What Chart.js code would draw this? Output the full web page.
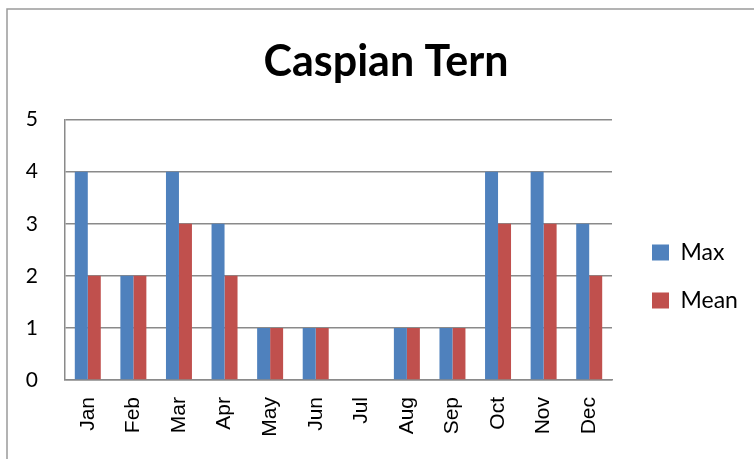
<!DOCTYPE html>
<html>
<head>
<meta charset="utf-8">
<script src="https://cdn.jsdelivr.net/npm/chart.js@4.4.1/dist/chart.umd.min.js"></script>
<style>
  html, body { margin: 0; padding: 0; background: #fff; }
  canvas { display: block; }
</style>
</head>
<body>
<canvas id="chart" width="754" height="459"></canvas>
<script>
// Monthly counts of Caspian Tern
const months = ['Jan', 'Feb', 'Mar', 'Apr', 'May', 'Jun', 'Jul', 'Aug', 'Sep', 'Oct', 'Nov', 'Dec'];
const maxCounts = [4, 2, 4, 3, 1, 1, 0, 1, 1, 4, 4, 3];
const meanCounts = [2, 2, 3, 2, 1, 1, 0, 1, 1, 3, 3, 2];
const yTicks = ['0', '1', '2', '3', '4', '5'];

const GRID = '#8a8a8a';
const CAL = 'Lato, "Open Sans", sans-serif';

// White page with a thin frame around the chart
const framePlugin = {
  id: 'frame',
  beforeDraw(chart) {
    const ctx = chart.ctx;
    ctx.save();
    ctx.fillStyle = '#fff';
    ctx.fillRect(0, 0, chart.width, chart.height);
    ctx.strokeStyle = '#9a9a9a';
    ctx.lineWidth = 1.5;
    ctx.strokeRect(7, 9, chart.width + 20, chart.height + 20);
    ctx.restore();
  }
};

// Give the legend column a fixed width so the plot keeps its size
const legendWidthPlugin = {
  id: 'legendWidth',
  beforeLayout(chart) {
    const lg = chart.legend;
    if (lg && !lg._fixedWidth) {
      const fit = lg.fit.bind(lg);
      lg.fit = function () { fit(); this.width = 125; };
      lg._fixedWidth = true;
    }
  }
};

new Chart(document.getElementById('chart'), {
  type: 'bar',
  data: {
    labels: months,
    datasets: [
      { label: 'Max', data: maxCounts, backgroundColor: '#4F81BD', borderWidth: 0 },
      { label: 'Mean', data: meanCounts, backgroundColor: '#C0504D', borderWidth: 0 }
    ]
  },
  options: {
    responsive: false,
    animation: false,
    devicePixelRatio: 1,
    layout: { padding: { left: 20, right: 2, top: 12, bottom: 0 } },
    datasets: { bar: { barPercentage: 1, categoryPercentage: 0.57 } },
    plugins: {
      tooltip: { enabled: false },
      title: {
        display: true,
        text: 'Caspian Tern',
        color: '#000',
        font: { family: CAL, size: 43, weight: 'bold', lineHeight: 1.2 },
        padding: { top: 24, bottom: 32 }
      },
      legend: {
        position: 'right',
        align: 'start',
        fullSize: false,
        title: { display: true, text: ' ', font: { size: 1, lineHeight: 1 }, padding: { top: 95.5, bottom: 0 } },
        labels: {
          color: '#000',
          boxWidth: 17,
          boxHeight: 16,
          padding: 25,
          font: { family: CAL, size: 23 }
        }
      }
    },
    scales: {
      x: {
        grid: { display: false, drawTicks: false },
        border: { display: true, color: GRID, width: 1.5 },
        ticks: {
          autoSkip: false,
          maxRotation: 90,
          minRotation: 90,
          padding: 17,
          color: '#000',
          font: { family: '"Liberation Sans", Arial, sans-serif', size: 21 }
        },
        afterFit(s) { s.height = 79; }
      },
      y: {
        min: 0,
        max: 5,
        grid: { color: GRID, lineWidth: 1.5, drawTicks: false },
        border: { display: true, color: GRID, width: 1.5 },
        ticks: {
          stepSize: 1,
          padding: 27,
          color: '#000',
          font: { family: CAL, size: 21 },
          callback: (v, i) => yTicks[i]
        },
        afterFit(s) { s.width = 45; }
      },
      gap: {
        position: 'right',
        display: true,
        grid: { display: false, drawTicks: false },
        border: { display: false },
        ticks: { display: false },
        afterFit(s) { s.width = 15; }
      }
    }
  },
  plugins: [framePlugin, legendWidthPlugin]
});
</script>
</body>
</html>
